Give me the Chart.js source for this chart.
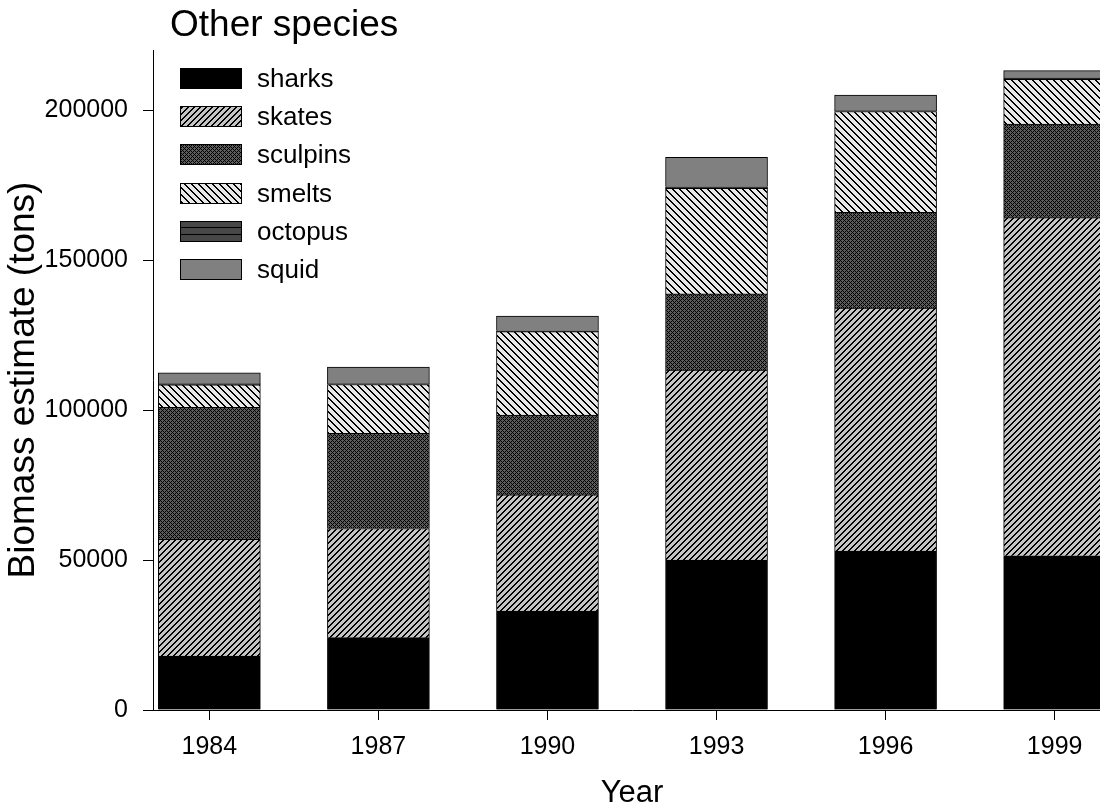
<!DOCTYPE html>
<html>
<head>
<meta charset="utf-8">
<title>Other species</title>
<script src="https://cdn.jsdelivr.net/npm/chart.js@4"></script>
<style>
  html, body { margin: 0; padding: 0; background: #fff; overflow: hidden; }
  #wrap { position: relative; width: 1100px; height: 812px; overflow: hidden; }
  #grafico { position: absolute; left: 0; top: 0; }
</style>
</head>
<body>
<div id="wrap">
  <canvas id="grafico" width="1120" height="812"></canvas>
</div>
<script>
// dados
const anos = [1984, 1987, 1990, 1993, 1996, 1999];
const sharks = [18000, 24100, 33000, 50000, 53000, 51400];
const skates = [38900, 36400, 38700, 63300, 81000, 112700];
const sculpins = [44000, 31700, 26600, 25400, 31900, 31200];
const smelts = [7500, 16300, 27800, 35200, 33600, 14900];
const octopus = [300, 200, 300, 500, 200, 400];
const squid = [3700, 5600, 4900, 9800, 5300, 2500];
const yTicks = [0, 50000, 100000, 150000, 200000];

const fonte = "Arial, 'Liberation Sans', sans-serif";
const ctx = document.getElementById('grafico').getContext('2d');

// padrões de preenchimento (tile pixel a pixel)
function criarPadrao(tam, fundo, teste) {
    const c = document.createElement('canvas');
    c.width = tam;
    c.height = tam;
    const g = c.getContext('2d');
    g.fillStyle = fundo;
    g.fillRect(0, 0, tam, tam);
    g.fillStyle = '#000';
    for (let y = 0; y < tam; y++) {
        for (let x = 0; x < tam; x++) {
            if (teste(x, y)) g.fillRect(x, y, 1, 1);
        }
    }
    return ctx.createPattern(c, 'repeat');
}

const padraoSkates = criarPadrao(6, '#c4c4c4', (x, y) => (x + y) % 6 < 2);
const padraoSculpins = criarPadrao(4, '#5c5c5c', (x, y) => (x + y) % 4 === 0 || (x - y + 4) % 4 === 0);
const padraoSmelts = criarPadrao(7, '#e8e8e8', (x, y) => ((x - y) % 7 + 7) % 7 < 2);
const padraoOctopus = criarPadrao(7, '#474747', (x, y) => y % 7 === 3);

function serie(nome, valores, cor) {
    return {
        label: nome,
        data: anos.map((ano, i) => ({ x: ano, y: valores[i] })),
        backgroundColor: cor,
        borderColor: '#000',
        borderWidth: 1,
        barThickness: 102
    };
}

const datasets = [
    serie('sharks', sharks, '#000'),
    serie('skates', skates, padraoSkates),
    serie('sculpins', sculpins, padraoSculpins),
    serie('smelts', smelts, padraoSmelts),
    serie('octopus', octopus, padraoOctopus),
    serie('squid', squid, '#808080')
];

// título e legenda desenhados à mão
const extras = {
    id: 'extras',
    afterDraw(chart) {
        const c = chart.ctx;
        c.save();
        c.fillStyle = '#000';
        c.font = '37px ' + fonte;
        c.textAlign = 'left';
        c.textBaseline = 'alphabetic';
        c.fillText('Other species', 170, 36);

        c.font = '26px ' + fonte;
        c.textBaseline = 'middle';
        chart.data.datasets.forEach((ds, i) => {
            const y = Math.round(68 + i * 38.2) + 0.5;
            c.fillStyle = ds.backgroundColor;
            c.fillRect(180.5, y, 61, 20);
            c.strokeStyle = '#000';
            c.lineWidth = 1;
            c.strokeRect(180.5, y, 61, 20);
            c.fillStyle = '#000';
            c.fillText(ds.label, 257, y + 11);
        });
        c.restore();
    }
};

new Chart(ctx, {
    type: 'bar',
    data: { datasets: datasets },
    options: {
        responsive: false,
        animation: false,
        layout: { padding: { left: 0, right: 9, top: 50, bottom: 0 } },
        plugins: {
            legend: { display: false },
            tooltip: { enabled: false }
        },
        scales: {
            x: {
                type: 'linear',
                stacked: true,
                offset: false,
                min: 1983,
                max: 2000,
                afterBuildTicks: scale => { scale.ticks = anos.map(v => ({ value: v })); },
                afterFit: scale => { scale.height = 102; },
                border: { color: '#000', width: 1 },
                grid: { offset: false, drawOnChartArea: false, drawTicks: true, tickLength: 10, color: '#000' },
                ticks: {
                    color: '#000',
                    padding: 12,
                    font: { family: fonte, size: 25 },
                    callback: v => String(v)
                },
                title: {
                    display: true,
                    text: 'Year',
                    color: '#000',
                    padding: { top: 0, bottom: 0 },
                    font: { family: fonte, size: 31 }
                }
            },
            y: {
                stacked: true,
                min: 0,
                max: 220000,
                afterBuildTicks: scale => { scale.ticks = yTicks.map(v => ({ value: v })); },
                afterFit: scale => { scale.width = 153; },
                border: { color: '#000', width: 1 },
                grid: { drawOnChartArea: false, drawTicks: true, tickLength: 10, color: '#000' },
                ticks: {
                    color: '#000',
                    padding: 15,
                    font: { family: fonte, size: 25 },
                    callback: v => String(v)
                },
                title: {
                    display: true,
                    text: 'Biomass estimate (tons)',
                    color: '#000',
                    padding: { top: 2, bottom: 0 },
                    font: { family: fonte, size: 37 }
                }
            }
        }
    },
    plugins: [extras]
});
</script>
</body>
</html>
